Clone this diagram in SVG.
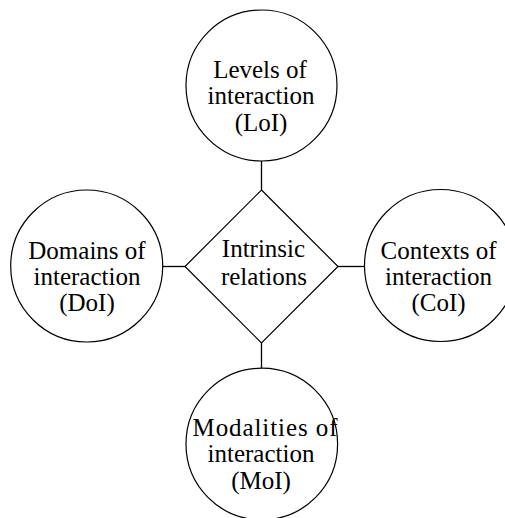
<svg xmlns="http://www.w3.org/2000/svg" width="505" height="518" viewBox="0 0 505 518">
<style>
.n{fill:#fff;stroke:#000;stroke-width:1.2}
.t{font-family:"Liberation Serif","Times New Roman",serif;font-size:25px;fill:#000;text-anchor:middle}
.c{stroke:#000;stroke-width:1.3;fill:none}
</style>
<rect width="505" height="518" fill="#fff"/>
<g id="connectors">
<line class="c" x1="261.5" y1="161" x2="261.5" y2="190"/>
<line class="c" x1="162.5" y1="266.5" x2="185" y2="266.5"/>
<line class="c" x1="338" y1="266.5" x2="364.5" y2="266.5"/>
<line class="c" x1="261.5" y1="343" x2="261.5" y2="368.5"/>
</g>
<g id="loi">
<circle class="n" cx="261.5" cy="85.5" r="75.5"/>
<text class="t" x="260" y="77.5">Levels of</text>
<text class="t" x="261" y="103.5">interaction</text>
<text class="t" x="261" y="130.5">(LoI)</text>
</g>
<g id="doi">
<circle class="n" cx="86.7" cy="266" r="76"/>
<text class="t" x="87" y="258.5">Domains of</text>
<text class="t" x="87" y="284.5">interaction</text>
<text class="t" x="87" y="311">(DoI)</text>
</g>
<g id="coi">
<circle class="n" cx="440.5" cy="265.5" r="76"/>
<text class="t" x="438.5" y="258.5">Contexts of</text>
<text class="t" x="438.5" y="284.5">interaction</text>
<text class="t" x="438.5" y="311">(CoI)</text>
</g>
<g id="moi">
<circle class="n" cx="261.8" cy="444" r="75.8"/>
<text class="t" x="265" y="436" textLength="145" lengthAdjust="spacing">Modalities of</text>
<text class="t" x="261" y="462">interaction</text>
<text class="t" x="261" y="488.5">(MoI)</text>
</g>
<g id="intrinsic">
<polygon class="n" points="261.5,190 338,266.5 261.5,343 185,266.5"/>
<text class="t" x="263.5" y="256.5">Intrinsic</text>
<text class="t" x="264" y="285">relations</text>
</g>
</svg>
